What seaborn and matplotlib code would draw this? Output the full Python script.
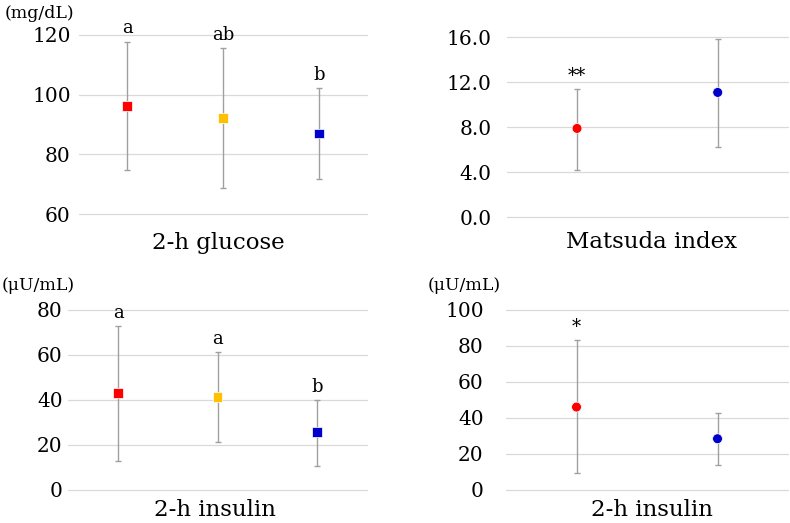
import matplotlib
matplotlib.use("Agg")
import matplotlib.pyplot as plt
import numpy as np
import pandas as pd
import seaborn as sns

# ---------------- data ----------------
groups3 = ["G1", "G2", "G3"]
groups2 = ["G1", "G3"]
colors3 = ["#ff0000", "#ffc000", "#0000cc"]
colors2 = ["#ff0000", "#0000cc"]

glucose_mean = [96.3, 92.3, 87.0]
glucose_upper = [117.8, 115.7, 102.2]
glucose_lower = [74.6, 68.6, 71.6]
glucose_marks = ["a", "ab", "b"]

matsuda_mean = [7.9, 11.1]
matsuda_upper = [11.43, 15.82]
matsuda_lower = [4.2, 6.28]
matsuda_marks = ["**", ""]

insulin3_mean = [43.0, 41.2, 25.5]
insulin3_upper = [72.6, 61.0, 40.0]
insulin3_lower = [12.6, 21.0, 10.4]
insulin3_marks = ["a", "a", "b"]

insulin2_mean = [45.9, 28.3]
insulin2_upper = [83.3, 42.6]
insulin2_lower = [9.1, 13.5]
insulin2_marks = ["*", ""]

sns.set_theme(style="whitegrid")
plt.rcParams["font.family"] = ["DejaVu Serif"]
plt.rcParams["grid.color"] = "#d9d9d9"
plt.rcParams["grid.linewidth"] = 0.9
plt.rcParams["text.color"] = "black"
plt.rcParams["ytick.color"] = "black"

fig = plt.figure(figsize=(7.9, 5.23), dpi=100)


def panel(rect, groups, colors, mean, upper, lower, marks, marker, size,
          ylim, ticks, fmt, pad):
    ax = fig.add_axes(rect)
    df = pd.DataFrame({"group": groups, "mean": mean})
    x = np.arange(len(groups))
    yerr = [np.array(mean) - np.array(lower), np.array(upper) - np.array(mean)]
    ax.errorbar(x, mean, yerr=yerr, fmt="none", ecolor="#a0a0a0",
                elinewidth=1.0, capsize=2.5, capthick=1.0, zorder=2)
    sns.scatterplot(data=df, x=x, y="mean", hue="group", palette=colors,
                    marker=marker, s=size, edgecolor="white", linewidth=0.5,
                    legend=False, ax=ax, zorder=3)
    for xi, up, m in zip(x, upper, marks):
        if m:
            ax.annotate(m, (xi, up), xytext=(0, 3), textcoords="offset points",
                        ha="center", va="bottom", fontsize=13)
    ax.set_xlim(-0.5, len(groups) - 0.5)
    ax.set_ylim(*ylim)
    ax.set_yticks(ticks)
    ax.set_yticklabels([fmt.format(t) for t in ticks], fontsize=14.5)
    ax.set_xticks([])
    ax.set_xlabel("")
    ax.set_ylabel("")
    ax.grid(axis="x", visible=False)
    for gl in ax.yaxis.get_gridlines():
        gl.set_clip_on(False)
    ax.tick_params(axis="y", length=0, pad=pad)
    for s in ax.spines.values():
        s.set_visible(False)
    ax.patch.set_alpha(0)
    return ax


panel([0.100, 0.5908, 0.3646, 0.3423], groups3, colors3, glucose_mean,
      glucose_upper, glucose_lower, glucose_marks, "s", 50,
      (60, 120), [60, 80, 100, 120], "{:.0f}", 6)
panel([0.6414, 0.5845, 0.3561, 0.3442], groups2, colors2, matsuda_mean,
      matsuda_upper, matsuda_lower, matsuda_marks, "o", 50,
      (0, 16), [0, 4, 8, 12, 16], "{:.1f}", 11)
panel([0.0865, 0.0637, 0.3777, 0.3442], groups3, colors3, insulin3_mean,
      insulin3_upper, insulin3_lower, insulin3_marks, "s", 50,
      (0, 80), [0, 20, 40, 60, 80], "{:.0f}", 4)
panel([0.6405, 0.0637, 0.3570, 0.3442], groups2, colors2, insulin2_mean,
      insulin2_upper, insulin2_lower, insulin2_marks, "o", 50,
      (0, 100), [0, 20, 40, 60, 80, 100], "{:.0f}", 16)

# unit labels
fig.text(5 / 790, 1 - 14 / 523, "(mg/dL)", ha="left", va="center", fontsize=12.5)
fig.text(2 / 790, 1 - 285 / 523, "(μU/mL)", ha="left", va="center", fontsize=12.5)
fig.text(428 / 790, 1 - 285 / 523, "(μU/mL)", ha="left", va="center", fontsize=12.5)

# panel titles
fig.text(218 / 790, 1 - 243 / 523, "2-h glucose", ha="center", va="center", fontsize=16.5)
fig.text(652 / 790, 1 - 242 / 523, "Matsuda index", ha="center", va="center", fontsize=16.5)
fig.text(215 / 790, 2 / 523, "2-h insulin", ha="center", va="bottom", fontsize=16.5)
fig.text(652 / 790, 2 / 523, "2-h insulin", ha="center", va="bottom", fontsize=16.5)

fig.savefig("out.png", dpi=100, facecolor="white")
